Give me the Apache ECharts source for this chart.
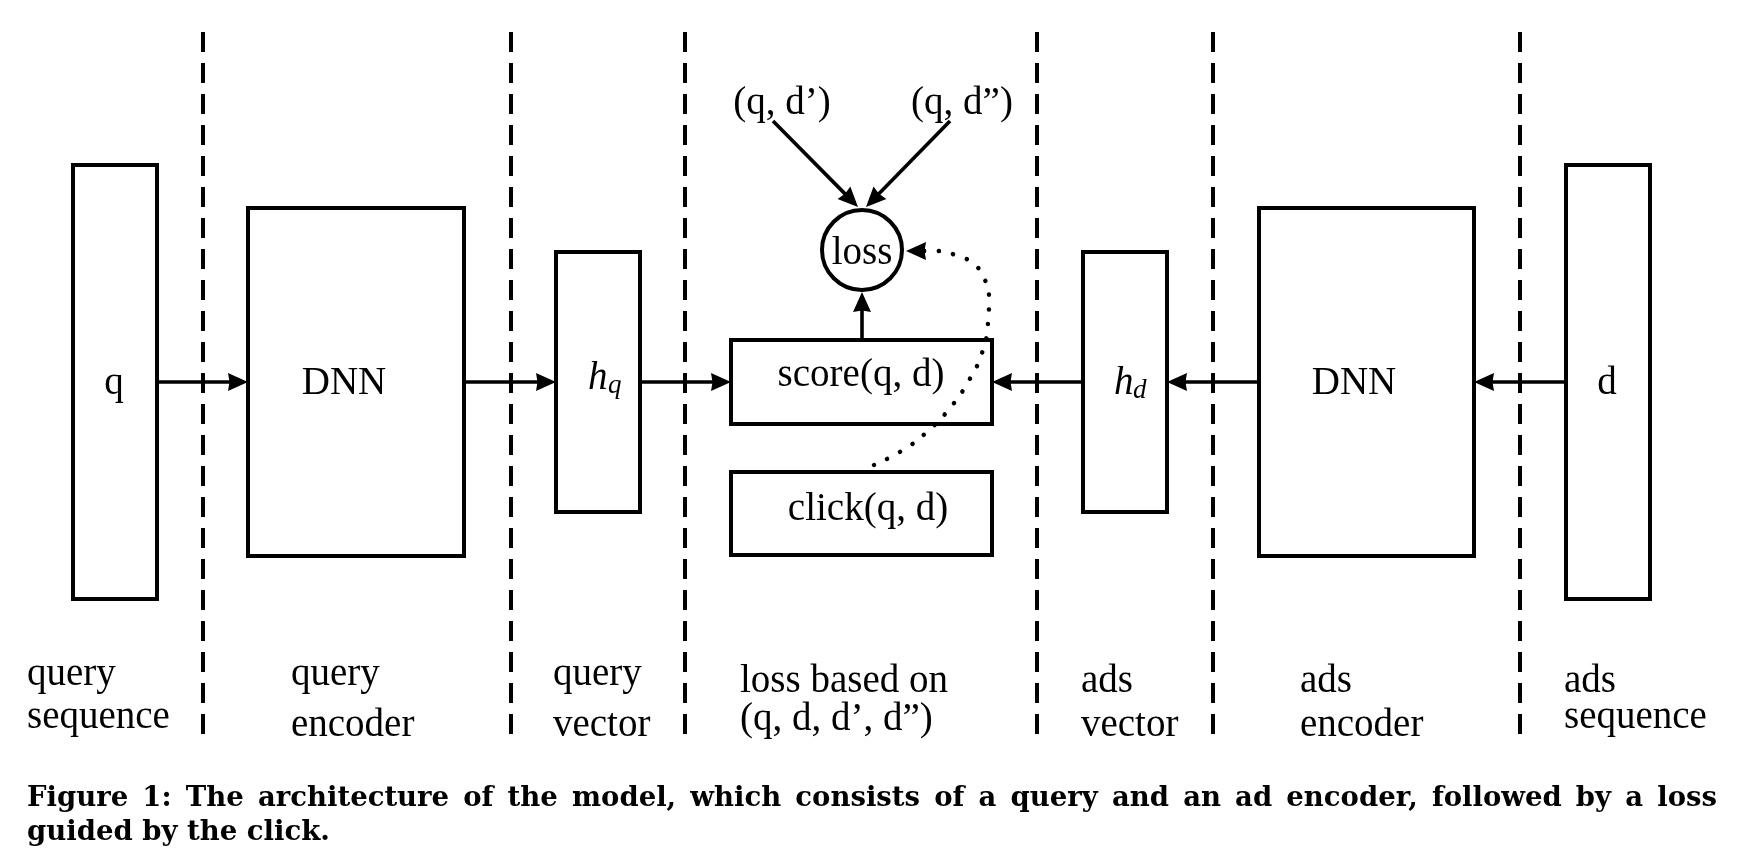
<!DOCTYPE html>
<html>
<head>
<meta charset="utf-8">
<script src="https://cdn.jsdelivr.net/npm/echarts@6/dist/echarts.min.js"></script>
<style>
  html, body { margin: 0; padding: 0; background: #fff; }
  #canvasContainer { width: 1756px; height: 864px; }
</style>
</head>
<body>
<div id="canvasContainer"></div>
<script>
// diagram units = pixels of the original figure, y grows downwards
var dividerX = [203, 511, 685, 1037, 1213, 1520];
var dividerY = [32, 734];

// boxes: q, DNN, h_q, score, click, h_d, DNN, d
var boxX0 = [73, 248, 556, 731, 731, 1083, 1259, 1566];
var boxY0 = [165, 208, 252, 340, 472, 252, 208, 165];
var boxX1 = [157, 464, 640, 992, 992, 1167, 1474, 1650];
var boxY1 = [599, 556, 512, 424, 555, 512, 556, 599];

var lossCenter = [862, 250];
var lossRadius = 40;

// arrows: from -> to (tip)
var arrowFrom = [[157, 382], [464, 382], [640, 382], [1083, 382], [1259, 382], [1566, 382],
                 [862, 340], [773, 121], [950, 121], [926, 251]];
var arrowTo   = [[248, 382], [556, 382], [731, 382], [992, 382], [1167, 382], [1474, 382],
                 [862, 292], [858, 207], [866, 207], [906, 251]];

// dotted feedback from click(q, d) back to loss
var clickPath = [[874, 465], [903, 450], [928, 431], [950, 408], [968, 382], [982, 353],
                 [988, 323], [989, 300], [985, 280], [975, 265], [958, 256], [935, 251], [924, 251]];

// text: content, x, y (middle), role
var labelText = ['q', 'DNN', 'h', 'q', 'score(q, d)', 'click(q, d)', 'h', 'd', 'DNN', 'd', 'loss',
                 '(q, d’)', '(q, d”)',
                 'query', 'sequence', 'query', 'encoder', 'query', 'vector',
                 'loss based on', '(q, d, d’, d”)', 'ads', 'vector', 'ads', 'encoder', 'ads', 'sequence'];
var labelX = [114, 344, 588, 608, 861, 868, 1114, 1133, 1354, 1607, 862,
              782, 962,
              27, 27, 291, 291, 553, 553,
              740, 740, 1081, 1081, 1300, 1300, 1564, 1564];
var labelY = [384, 384, 379, 386, 376, 510, 384, 391, 384, 384, 254,
              104, 104,
              675, 718, 675, 726, 675, 726,
              682, 720, 682, 726, 682, 726, 682, 718];
var labelRole = ['c', 'c', 'hi', 'sub', 'c', 'c', 'hi', 'sub', 'c', 'c', 'c',
                 'c', 'c',
                 'l', 'l', 'l', 'l', 'l', 'l',
                 'l', 'l', 'l', 'l', 'l', 'l', 'l', 'l'];

var captionLines = ['Figure 1: The architecture of the model, which consists of a query and an ad encoder, followed by a loss',
                    'guided by the click.'];
var captionY = [799, 833];
var captionJustified = [true, false];
var captionLeft = 27, captionRight = 1717;

var serif = '"Liberation Serif", "Times New Roman", serif';
var capFont = '"DejaVu Serif", serif';
var capSize = 27.5;
var roleStyle = {
    c:   { fontSize: 39, fontFamily: serif, align: 'center' },
    l:   { fontSize: 39, fontFamily: serif, align: 'left' },
    hi:  { fontSize: 39, fontFamily: serif, fontStyle: 'italic', align: 'left' },
    sub: { fontSize: 27, fontFamily: serif, fontStyle: 'italic', align: 'left' }
};

var chart = echarts.init(document.getElementById('canvasContainer'));
var measureCtx = document.createElement('canvas').getContext('2d');
measureCtx.font = 'bold ' + capSize + 'px ' + capFont;

function pairs(a, b) {
    return a.map(function (v, i) { return [v, b[i]]; });
}

var option = {
    animation: false,
    backgroundColor: '#fff',
    grid: { left: 0, right: 0, top: 0, bottom: 0 },
    xAxis: { type: 'value', min: 0, max: 1756, show: false },
    yAxis: { type: 'value', min: 0, max: 864, inverse: true, show: false },
    series: [
        {
            name: 'dividers',
            type: 'custom',
            z: 1,
            data: dividerX.map(function (x) { return [x]; }),
            renderItem: function (params, api) {
                var p0 = api.coord([api.value(0), dividerY[0]]);
                var p1 = api.coord([api.value(0), dividerY[1]]);
                return {
                    type: 'line',
                    shape: { x1: p0[0], y1: p0[1], x2: p1[0], y2: p1[1] },
                    style: { stroke: '#000', lineWidth: 4, lineDash: [20, 11] }
                };
            }
        },
        {
            name: 'boxes',
            type: 'custom',
            z: 2,
            data: boxX0.map(function (v, i) { return [v, boxY0[i], boxX1[i], boxY1[i]]; }),
            renderItem: function (params, api) {
                var p0 = api.coord([api.value(0), api.value(1)]);
                var p1 = api.coord([api.value(2), api.value(3)]);
                return {
                    type: 'rect',
                    shape: { x: p0[0], y: p0[1], width: p1[0] - p0[0], height: p1[1] - p0[1] },
                    style: { fill: '#fff', stroke: '#000', lineWidth: 4 }
                };
            }
        },
        {
            name: 'loss',
            type: 'custom',
            z: 2,
            data: [[lossCenter[0], lossCenter[1], lossRadius]],
            renderItem: function (params, api) {
                var c = api.coord([api.value(0), api.value(1)]);
                var r = api.size([api.value(2), api.value(2)])[0];
                return {
                    type: 'circle',
                    shape: { cx: c[0], cy: c[1], r: r },
                    style: { fill: '#fff', stroke: '#000', lineWidth: 4 }
                };
            }
        },
        {
            name: 'arrows',
            type: 'custom',
            z: 3,
            data: arrowFrom.map(function (f, i) { return [f[0], f[1], arrowTo[i][0], arrowTo[i][1]]; }),
            renderItem: function (params, api) {
                var a = api.coord([api.value(0), api.value(1)]);
                var b = api.coord([api.value(2), api.value(3)]);
                var dx = b[0] - a[0], dy = b[1] - a[1];
                var len = Math.sqrt(dx * dx + dy * dy);
                var ux = dx / len, uy = dy / len;
                var hl = 20, hw = 9;
                var bx = b[0] - ux * hl, by = b[1] - uy * hl;
                return {
                    type: 'group',
                    children: [
                        {
                            type: 'line',
                            shape: { x1: a[0], y1: a[1], x2: bx + ux * 4, y2: by + uy * 4 },
                            style: { stroke: '#000', lineWidth: 3.6 }
                        },
                        {
                            type: 'polygon',
                            shape: { points: [[b[0], b[1]], [bx - uy * hw, by + ux * hw], [bx + ux * 1.5, by + uy * 1.5], [bx + uy * hw, by - ux * hw]] },
                            style: { fill: '#000' }
                        }
                    ]
                };
            }
        },
        {
            name: 'click feedback',
            type: 'line',
            z: 4,
            data: clickPath,
            smooth: 0.5,
            symbol: 'none',
            silent: true,
            lineStyle: { color: '#000', width: 4.5, type: [0.1, 14.5], cap: 'round' }
        },
        {
            name: 'labels',
            type: 'custom',
            z: 5,
            data: pairs(labelX, labelY),
            renderItem: function (params, api) {
                var p = api.coord([api.value(0), api.value(1)]);
                var st = roleStyle[labelRole[params.dataIndex]];
                return {
                    type: 'text',
                    x: p[0],
                    y: p[1],
                    style: {
                        text: labelText[params.dataIndex],
                        fill: '#000',
                        fontSize: st.fontSize,
                        fontFamily: st.fontFamily,
                        fontStyle: st.fontStyle || 'normal',
                        align: st.align,
                        verticalAlign: 'middle'
                    }
                };
            }
        },
        {
            name: 'caption',
            type: 'custom',
            z: 5,
            data: captionY.map(function (y) { return [captionLeft, y]; }),
            renderItem: function (params, api) {
                var i = params.dataIndex;
                var p = api.coord([api.value(0), api.value(1)]);
                var right = api.coord([captionRight, api.value(1)])[0];
                var words = captionLines[i].split(' ');
                var widths = words.map(function (w) { return measureCtx.measureText(w).width; });
                var total = widths.reduce(function (s, w) { return s + w; }, 0);
                var gap = captionJustified[i] ? (right - p[0] - total) / (words.length - 1)
                                              : measureCtx.measureText(' ').width;
                var x = p[0];
                var children = words.map(function (w, k) {
                    var el = {
                        type: 'text',
                        x: x,
                        y: p[1],
                        style: {
                            text: w,
                            fill: '#000',
                            fontSize: capSize,
                            fontFamily: capFont,
                            fontWeight: 'bold',
                            align: 'left',
                            verticalAlign: 'middle'
                        }
                    };
                    x += widths[k] + gap;
                    return el;
                });
                return { type: 'group', children: children };
            }
        }
    ]
};
chart.setOption(option);
</script>
</body>
</html>
